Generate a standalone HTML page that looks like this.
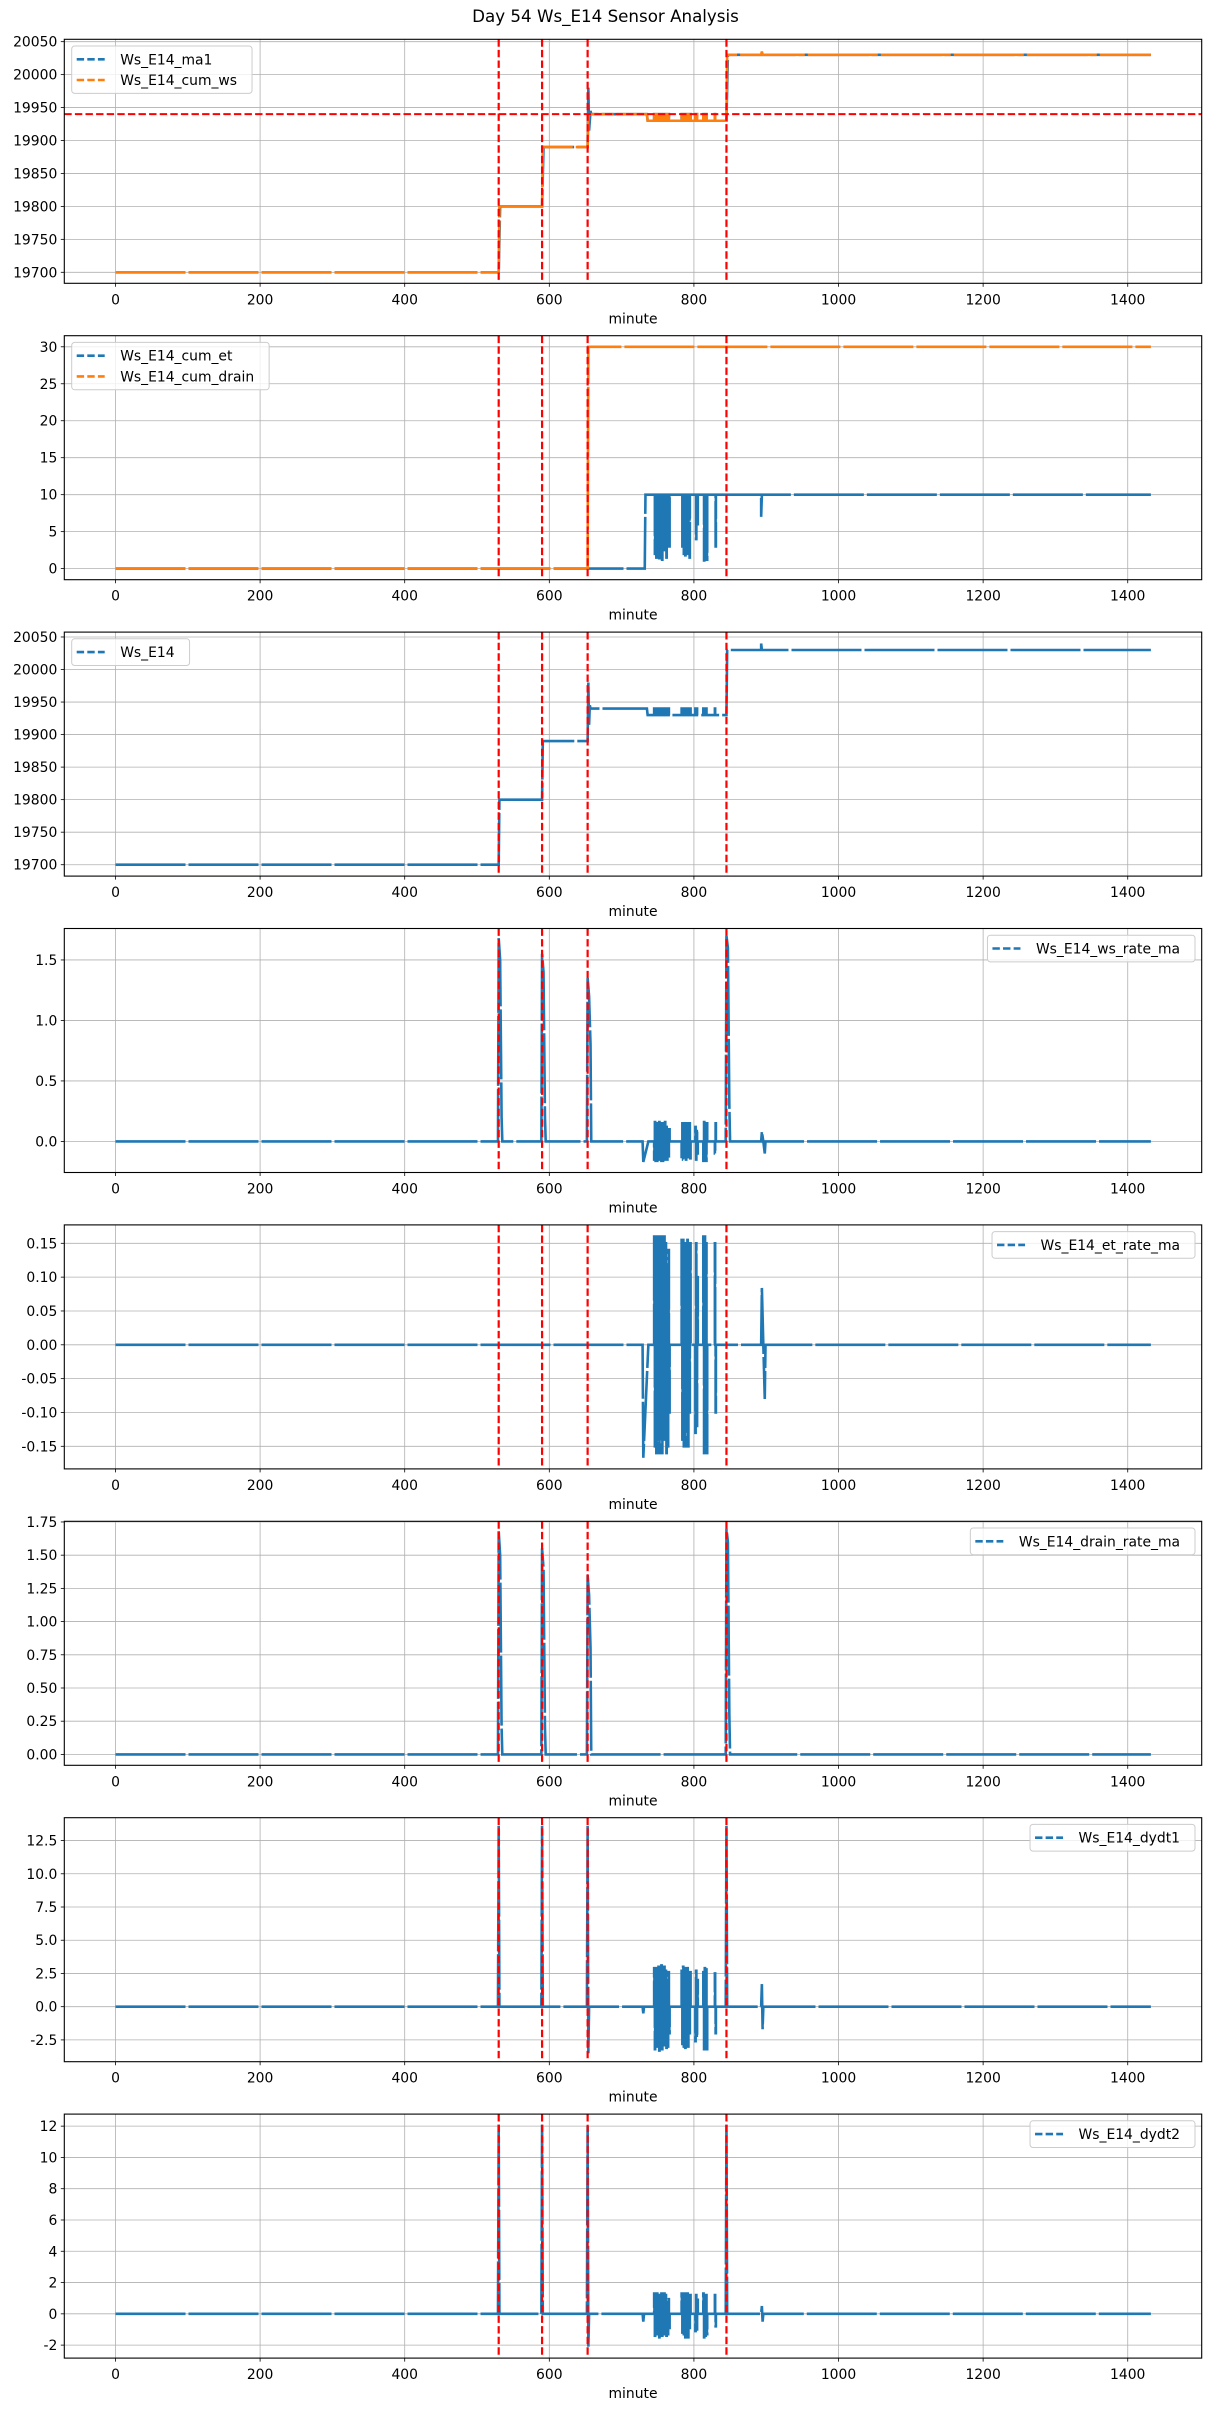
<!DOCTYPE html>
<html><head><meta charset="utf-8">
<style>
html,body{margin:0;padding:0;background:#fff;}
svg{display:block;font-family:"DejaVu Sans","Liberation Sans",sans-serif;}
</style></head>
<body>
<svg id="fig" xmlns="http://www.w3.org/2000/svg" width="1211" height="2411" viewBox="0 0 1211 2411">
<rect width="1211" height="2411" fill="#fff"/>
<text x="605.5" y="22" text-anchor="middle" font-size="16.7" fill="#000">Day 54 Ws_E14 Sensor Analysis</text>
</svg>
<script>
// ---------- data ----------
const xTicks = [0,200,400,600,800,1000,1200,1400];
const eventMinutes = [530,590,653,845];
const thresholdWs = 19940;

const oscMinutes = [745,746,747,748,749,750,751,752,753,754,755,756,757,758,759,760,761,762,763,764,765,766,
  783,784,785,786,787,788,789,790,791,792,793,794,795, 802,803,804,805, 813,814,815,816,817,818, 829,830];
const cumWsOsc = [19940,19930,19940,19930,19940,19930,19940,19930,19940,19930,19940,19930,19940,19930,19940,19930,19940,19930,19940,19930,19940,19930,
  19940,19930,19940,19930,19940,19930,19940,19930,19940,19930,19940,19930,19940, 19940,19930,19940,19930, 19940,19930,19940,19930,19940,19930, 19940,19930];
const cumEtOsc = [10,2,10,1.5,10,2,10,1.4,10,2,10,1.2,10,2.5,10,3,10,1.5,10,4,10,3,
  10,3,10,2,10,1.8,10,5,10,2,10,1.5,10, 10,4,10,6, 10,1.1,10,2,10,1.2, 10,3];
const wsRateOsc = [-0.15,0.16,-0.16,0.15,-0.16,0.14,-0.15,0.16,-0.12,0.15,-0.16,0.14,-0.16,0.15,-0.13,0.16,-0.15,0.12,-0.15,0.1,-0.14,0.1,
  -0.14,0.15,-0.15,0.15,-0.15,0.12,-0.15,0.15,-0.13,0.12,-0.1,0.15,-0.14, 0.12,-0.15,0.1,-0.1, -0.16,0.16,-0.15,0.15,-0.16,0.15, -0.1,0.15];
const etRateOsc = [0.16,-0.15,0.16,-0.16,0.16,-0.14,0.16,-0.16,0.15,-0.12,0.16,-0.16,0.15,-0.14,0.16,-0.13,0.15,-0.16,0.1,-0.15,0.14,-0.1,
  0.155,-0.14,0.155,-0.15,0.15,-0.15,0.15,-0.12,0.155,-0.15,0.13,-0.1,0.15, -0.13,0.15,-0.12,0.1, 0.16,-0.16,0.16,-0.15,0.15,-0.16, 0.15,-0.1];
const dydt1Osc = [2.9,-3.2,2.5,-3.0,2.9,-2.8,3.0,-3.3,2.6,-2.5,3.1,-3.2,2.8,-2.9,3.0,-2.6,2.7,-3.1,2.0,-3.0,2.6,-2.0,
  2.7,-2.8,3.0,-3.0,2.8,-3.1,2.9,-2.4,2.9,-3.0,2.4,-2.0,2.6, -2.6,2.7,-2.3,2.0, 2.6,-3.2,2.9,-3.0,2.8,-3.2, 2.5,-2.0];
const dydt2Osc = [1.3,-1.4,1.1,-1.2,1.3,-1.3,1.2,-1.5,1.0,-1.1,1.3,-1.4,1.2,-1.3,1.3,-1.1,1.2,-1.4,0.9,-1.3,1.1,-0.9,
  1.3,-1.2,1.3,-1.3,1.2,-1.5,1.3,-1.1,1.3,-1.5,1.0,-0.9,1.2, -1.1,1.2,-1.0,0.9, 1.3,-1.5,1.2,-1.4,1.2,-1.3, 1.2,-0.8];

const cumWsPre = [[0,19700],[530,19700],[531,19800],[590,19800],[591,19890],[653,19890],[654,19940],[735,19940],[736,19930],[744,19930]];
const cumWsPost = [[845,19930],[846,20030],[893,20030],[894,20035],[895,20030],[1432,20030]];
const ma1Pre = [[0,19700],[530,19700],[532,19800],[590,19800],[592,19890],[653,19890],[654,19980],[655,19915],[657,19945],[658,19940],[735,19940],[736,19930],[744,19930]];
const ma1Post = [[845,19930],[847,20030],[1432,20030]];
const cumEtPre = [[0,0],[732,0],[733,10],[744,10]];
const cumEtPost = [[836,10],[893,10],[893,7],[894,10],[1432,10]];
const cumDrain = [[0,0],[653,0],[654,30],[1432,30]];
const wsRawPre = [[0,19700],[530,19700],[531,19800],[590,19800],[591,19890],[653,19890],[654,19980],[655,19915],[656,19945],[657,19940],[735,19940],[736,19930],[744,19930]];
const wsRawPost = [[845,19930],[846,20030],[893,20030],[893,20040],[894,20030],[1432,20030]];
const spikeBase = [[0,0],[529,0],[530,1.68],[532,1.5],[534,0.2],[535,0],[589,0],[590,1.55],[592,1.4],[594,0.2],[595,0],[652,0],[653,1.35],[655,1.2],[657,0.8],[658,0]];
const wsRatePre = [[729,0],[730,-0.17],[737,0],[744,0]];
const wsRatePost = [[835,0],[844,0],[845,1.7],[847,1.6],[849,0.3],[850,0],[893,0],[894,0.08],[896,0],[898,-0.1],[899,0],[1432,0]];
const etRatePre = [[0,0],[729,0],[730,-0.167],[737,0],[744,0]];
const etRatePost = [[835,0],[893,0],[894,0.084],[896,0],[898,-0.08],[899,0],[1432,0]];
const drainRate = [[0,0],[529,0],[530,1.68],[532,1.5],[534,0.2],[535,0],[589,0],[590,1.55],[592,1.4],[594,0.2],[595,0],[652,0],[653,1.35],[655,1.2],[657,0.8],[658,0],[844,0],[845,1.7],[847,1.6],[849,0.3],[850,0],[1432,0]];
const dydt1Pre = [[0,0],[529,0],[530,13.6],[531,0],[589,0],[590,13.6],[591,0],[652,0],[653,13.6],[654,-3.5],[655,0],[729,0],[730,-0.5],[731,0],[744,0]];
const dydt1Post = [[835,0],[844,0],[845,13.6],[846,0],[893,0],[894,1.7],[895,-1.7],[896,0],[1432,0]];
const dydt2Pre = [[0,0],[529,0],[530,12.1],[531,0],[589,0],[590,12.1],[591,0],[652,0],[653,12.0],[654,-2.1],[655,0],[729,0],[730,-0.5],[731,0],[744,0]];
const dydt2Post = [[835,0],[844,0],[845,12.1],[846,0],[893,0],[894,0.5],[895,-0.5],[896,0],[1432,0]];

// ---------- layout ----------
const NS = "http://www.w3.org/2000/svg";
const svg = document.getElementById('fig');
const AX_L = 64.3, AX_R = 1201.7, AX_H = 244, TOP0 = 39.3, STEP = 296.4;
const XMIN = -70.8, XMAX = 1502.3;
const BLUE = "#1f77b4", ORANGE = "#ff7f0e";
function xs(m){ return AX_L + (m - XMIN) / (XMAX - XMIN) * (AX_R - AX_L); }
function mk(tag, attrs, parent){ const e = document.createElementNS(NS, tag); for (const k in attrs) e.setAttribute(k, attrs[k]); (parent||svg).appendChild(e); return e; }
// oscillations are drawn as vertical spikes from a base level
function merge(pre, om, ov, post, base){
  const out = pre.slice();
  om.forEach((m,i)=>{ out.push([m, base]); out.push([m, ov[i]]); out.push([m+0.4, ov[i]]); out.push([m+0.4, base]); });
  return out.concat(post);
}

const panels = [
 {name:'cum-ws', ylim:[19683.3,20053.6], ticks:[19700,19750,19800,19850,19900,19950,20000,20050], dec:0, legend:'left',
  series:[{label:'Ws_E14_ma1', color:BLUE, pts: merge(ma1Pre, oscMinutes, cumWsOsc, ma1Post, 19930)},
          {label:'Ws_E14_cum_ws', color:ORANGE, pts: merge(cumWsPre, oscMinutes, cumWsOsc, cumWsPost, 19930)}], hline:thresholdWs},
 {name:'cum-et-drain', ylim:[-1.5,31.5], ticks:[0,5,10,15,20,25,30], dec:0, legend:'left',
  series:[{label:'Ws_E14_cum_et', color:BLUE, pts: merge(cumEtPre, oscMinutes, cumEtOsc, cumEtPost, 10)},
          {label:'Ws_E14_cum_drain', color:ORANGE, pts: cumDrain}]},
 {name:'ws-raw', ylim:[19682.5,20057.5], ticks:[19700,19750,19800,19850,19900,19950,20000,20050], dec:0, legend:'left',
  series:[{label:'Ws_E14', color:BLUE, pts: merge(wsRawPre, oscMinutes, cumWsOsc, wsRawPost, 19930)}]},
 {name:'ws-rate', ylim:[-0.257,1.76], ticks:[0,0.5,1.0,1.5], dec:1, legend:'right',
  series:[{label:'Ws_E14_ws_rate_ma', color:BLUE, pts: merge(spikeBase.concat(wsRatePre), oscMinutes, wsRateOsc, wsRatePost, 0)}]},
 {name:'et-rate', ylim:[-0.1834,0.1772], ticks:[-0.15,-0.10,-0.05,0,0.05,0.10,0.15], dec:2, legend:'right',
  series:[{label:'Ws_E14_et_rate_ma', color:BLUE, pts: merge(etRatePre, oscMinutes, etRateOsc, etRatePost, 0)}]},
 {name:'drain-rate', ylim:[-0.082,1.755], ticks:[0,0.25,0.5,0.75,1.0,1.25,1.5,1.75], dec:2, legend:'right',
  series:[{label:'Ws_E14_drain_rate_ma', color:BLUE, pts: drainRate}]},
 {name:'dydt1', ylim:[-4.14,14.22], ticks:[-2.5,0,2.5,5,7.5,10,12.5], dec:1, legend:'right',
  series:[{label:'Ws_E14_dydt1', color:BLUE, pts: merge(dydt1Pre, oscMinutes, dydt1Osc, dydt1Post, 0)}]},
 {name:'dydt2', ylim:[-2.83,12.77], ticks:[-2,0,2,4,6,8,10,12], dec:0, legend:'right',
  series:[{label:'Ws_E14_dydt2', color:BLUE, pts: merge(dydt2Pre, oscMinutes, dydt2Osc, dydt2Post, 0)}]}
];

function fmt(v, dec){ return v.toFixed(dec); }

panels.forEach((p, i) => {
  const top = TOP0 + STEP*i, bot = top + AX_H;
  const ys = v => bot - (v - p.ylim[0]) / (p.ylim[1] - p.ylim[0]) * AX_H;
  const g = mk('g', {});
  
  
  const clipId = 'clip' + i;
  const cp = mk('clipPath', {id: clipId}, g);
  mk('rect', {x: AX_L, y: top, width: AX_R-AX_L, height: AX_H}, cp);

  const grid = mk('g', {stroke:'#b0b0b0', 'stroke-width':0.8}, g);
  
  
  xTicks.forEach(t => mk('line', {x1: xs(t), x2: xs(t), y1: top, y2: bot}, grid));
  p.ticks.forEach(t => mk('line', {x1: AX_L, x2: AX_R, y1: ys(t), y2: ys(t)}, grid));

  const sg = mk('g', {'clip-path': 'url(#' + clipId + ')'}, g);
  p.series.forEach(s => {
    const d = s.pts.map((pt, k) => (k ? 'L' : 'M') + xs(pt[0]).toFixed(2) + ' ' + ys(pt[1]).toFixed(2)).join(' ');
    const path = mk('path', {d: d, fill: 'none', stroke: s.color, 'stroke-width': 2.6, 'stroke-dasharray': '70,3', 'stroke-linejoin': 'miter'}, sg);
    
    
  });

  eventMinutes.forEach(m => {
    const l = mk('line', {x1: xs(m), x2: xs(m), y1: top, y2: bot, stroke: '#ff0000', 'stroke-width': 2.2, 'stroke-dasharray': '7.4,3.2'}, g);
    
    
  });
  if (p.hline !== undefined) {
    const h = mk('line', {x1: AX_L, x2: AX_R, y1: ys(p.hline), y2: ys(p.hline), stroke: '#ff0000', 'stroke-width': 2, 'stroke-dasharray': '7.4,3.2'}, g);
    
    
  }

  const fr = mk('rect', {x: AX_L, y: top, width: AX_R-AX_L, height: AX_H, fill: 'none', stroke: '#000', 'stroke-width': 1.1}, g);
  
  

  const xt = mk('g', {'font-size': 13.9, fill: '#000'}, g);
  
  
  xTicks.forEach(t => {
    mk('line', {x1: xs(t), x2: xs(t), y1: bot, y2: bot+3.5, stroke: '#000', 'stroke-width': 0.8}, xt);
    const tx = mk('text', {x: xs(t), y: bot + 21, 'text-anchor': 'middle'}, xt);
    tx.textContent = String(t);
  });
  const xl = mk('text', {x: (AX_L+AX_R)/2, y: bot + 40, 'text-anchor': 'middle', 'font-size': 13.9}, g);
  
  
  xl.textContent = 'minute';

  const yt = mk('g', {'font-size': 13.9, fill: '#000'}, g);
  
  
  p.ticks.forEach(t => {
    mk('line', {x1: AX_L-3.5, x2: AX_L, y1: ys(t), y2: ys(t), stroke: '#000', 'stroke-width': 0.8}, yt);
    const tx = mk('text', {x: AX_L - 7, y: ys(t) + 5, 'text-anchor': 'end'}, yt);
    tx.textContent = fmt(t, p.dec);
  });

  const lg = mk('g', {}, g);
  
  
  const box = mk('rect', {rx: 3, fill: '#fff', 'fill-opacity': 0.8, stroke: '#cccccc', 'stroke-width': 1}, lg);
  const texts = [];
  p.series.forEach((s, k) => {
    const ty = top + 20 + k*20.7;
    const hl = mk('line', {y1: ty, y2: ty, stroke: s.color, 'stroke-width': 2.6, 'stroke-dasharray': '7.4,3.2'}, lg);
    const tx = mk('text', {y: ty + 5, 'font-size': 13.9, fill: '#000'}, lg);
    tx.textContent = s.label;
    texts.push([hl, tx]);
  });
  let maxW = 0;
  texts.forEach(([hl, tx]) => { maxW = Math.max(maxW, tx.getComputedTextLength()); });
  const boxW = 55.5 + maxW + 8;
  const boxX = p.legend === 'left' ? AX_L + 7.4 : AX_R - 6.7 - boxW;
  texts.forEach(([hl, tx]) => {
    hl.setAttribute('x1', boxX + 5); hl.setAttribute('x2', boxX + 33);
    tx.setAttribute('x', boxX + 48.5);
  });
  box.setAttribute('x', boxX); box.setAttribute('y', top + 6.7);
  box.setAttribute('width', boxW); box.setAttribute('height', 8 + 20.7*p.series.length - 2);
});
</script>
</body></html>
